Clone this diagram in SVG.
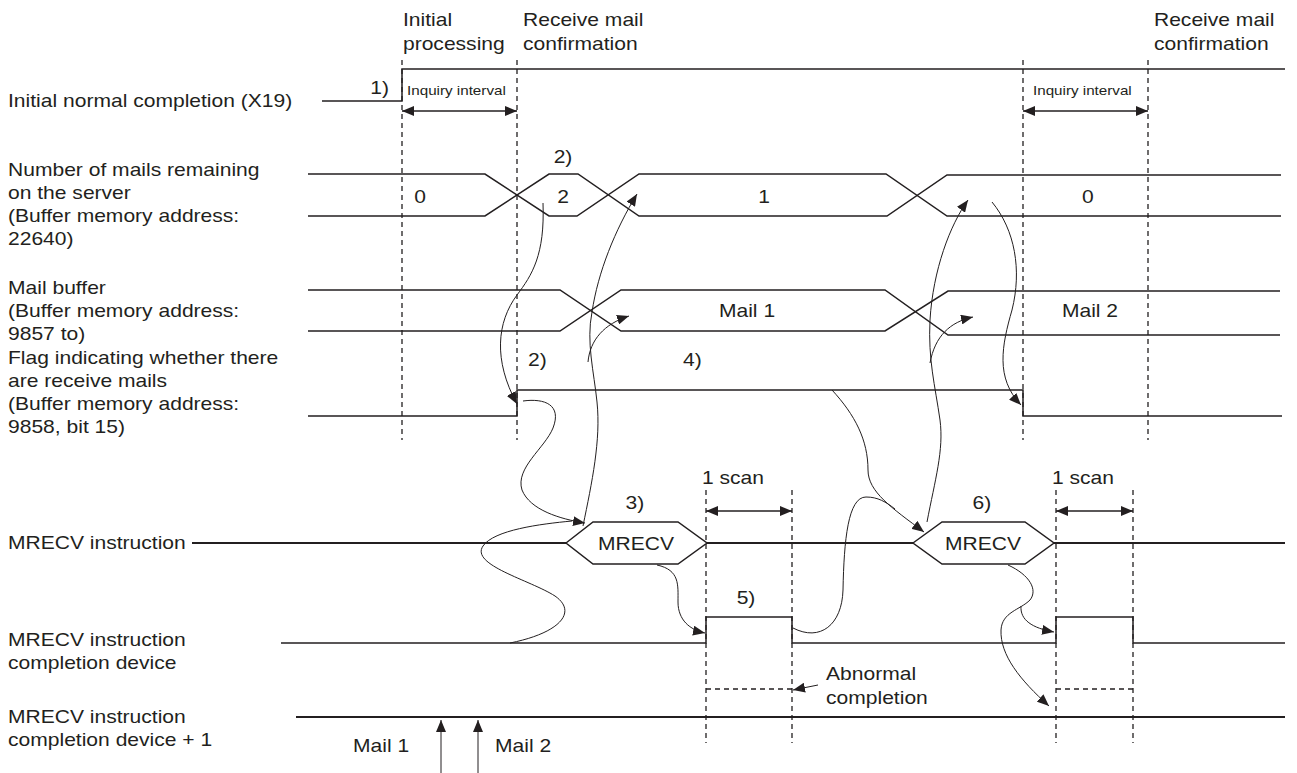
<svg xmlns="http://www.w3.org/2000/svg" width="1297" height="773" viewBox="0 0 1297 773">
<style>
text{font-family:"Liberation Sans",Arial,sans-serif;font-size:18px;fill:#231f20}
.sm{font-size:13px}
.sig{fill:none;stroke:#231f20;stroke-width:1.5}
.thk{fill:none;stroke:#231f20;stroke-width:2.2}
.dash{fill:none;stroke:#231f20;stroke-width:1.3;stroke-dasharray:5 4}
.cv{fill:none;stroke:#231f20;stroke-width:1}
.dim{fill:none;stroke:#231f20;stroke-width:1.3}
.mid{text-anchor:middle}
.end{text-anchor:end}
</style>
<defs>
<marker id="ah" viewBox="0 0 12 10" refX="12" refY="5" markerWidth="12" markerHeight="10" markerUnits="userSpaceOnUse" orient="auto-start-reverse">
<path d="M0,0 L12,5 L0,10 Z" fill="#231f20"/>
</marker>
</defs>
<rect width="1297" height="773" fill="#fff"/>

<g id="dashed-guides">
<path class="dash" d="M402,60 V440 M517,60 V440 M1023,60 V440 M1148,60 V440"/>
<path class="dash" d="M706,490 V743 M792,490 V743 M1056,490 V743 M1133,490 V743"/>
<path class="dash" d="M706,689 H792 M1056,689 H1133"/>
</g>

<g id="x19">
<path class="sig" d="M322,101 H402 V69 H1285"/>
<line class="dim" x1="402" y1="111" x2="517" y2="111" marker-start="url(#ah)" marker-end="url(#ah)"/>
<line class="dim" x1="1023" y1="111" x2="1148" y2="111" marker-start="url(#ah)" marker-end="url(#ah)"/>
</g>

<g id="mail-count">
<path class="sig" d="M308,174 H485 L549,216 H577 L639,174 H886 L947,216 H1281"/>
<path class="sig" d="M308,216 H485 L549,174 H578 L639,216 H887 L947,175 H1281"/>
</g>

<g id="mail-buffer">
<path class="sig" d="M308,290 H560 L621,331 H885 L948,291 H1280"/>
<path class="sig" d="M308,331 H560 L621,290 H885 L948,335 H1280"/>
</g>

<g id="flag">
<path class="sig" d="M308,416 H517 V390 H1023 V416 H1282"/>
</g>

<g id="mrecv">
<path class="thk" d="M192,543 H566 M707,543 H913 M1054,543 H1285"/>
<path class="sig" d="M566,543 L593,522 H678 L707,543 L678,564 H593 Z" fill="#fff"/>
<path class="sig" d="M913,543 L942,522 H1025 L1054,543 L1025,564 H942 Z" fill="#fff"/>
<line class="dim" x1="706" y1="511" x2="792" y2="511" marker-start="url(#ah)" marker-end="url(#ah)"/>
<line class="dim" x1="1056" y1="511" x2="1133" y2="511" marker-start="url(#ah)" marker-end="url(#ah)"/>
</g>

<g id="completion">
<path class="sig" d="M281,643 H706 V617 H792 V643 H1056 V617 H1133 V643 H1285"/>
</g>

<g id="completion1">
<path class="thk" d="M296,717 H1285"/>
</g>

<g id="connectors">
<line class="cv" x1="441" y1="773" x2="441" y2="720" marker-end="url(#ah)"/>
<line class="cv" x1="478" y1="773" x2="478" y2="720" marker-end="url(#ah)"/>
<line class="cv" x1="818" y1="685" x2="793" y2="690" marker-end="url(#ah)"/>
<path class="cv" d="M543,203 C545,255 532,275 517,295 C497,322 493,360 517,404" marker-end="url(#ah)"/>
<path class="cv" d="M523,401 C545,398 562,405 553,428 C545,448 515,468 522,490 C530,510 560,519 585,523" marker-end="url(#ah)"/>
<path class="cv" d="M510,643 C560,633 578,612 555,596 C530,580 470,565 483,546 C494,530 540,524 572,521"/>
<path class="cv" d="M583,526 C592,482 601,440 597,402 C594,372 586,342 592,312 C598,272 615,230 637,194" marker-end="url(#ah)"/>
<path class="cv" d="M588,362 C590,340 604,324 629,316" marker-end="url(#ah)"/>
<path class="cv" d="M657,565 C680,570 678,585 678,602 C678,620 690,630 705,633" marker-end="url(#ah)"/>
<path class="cv" d="M832,390 C855,415 868,440 868,470 C868,492 892,508 924,532" marker-end="url(#ah)"/>
<path class="cv" d="M793,628 C820,642 842,625 843,590 C844,540 848,497 866,497 C878,497 886,502 895,509"/>
<path class="cv" d="M927,522 C935,480 944,450 940,420 C935,385 928,360 930,320 C933,270 950,225 968,200" marker-end="url(#ah)"/>
<path class="cv" d="M930,363 C935,336 950,322 973,317" marker-end="url(#ah)"/>
<path class="cv" d="M992,202 C1015,230 1022,270 1012,310 C1002,345 995,378 1021,405" marker-end="url(#ah)"/>
<path class="cv" d="M1008,565 C1030,575 1038,590 1030,600 C1020,610 1002,612 1001,630 C1000,655 1020,680 1049,706" marker-end="url(#ah)"/>
<path class="cv" d="M1021,606 C1020,620 1032,628 1054,632" marker-end="url(#ah)"/>
</g>

<g id="labels" transform="scale(1.17,1)">
<text x="344.4" y="26">Initial</text>
<text x="344.4" y="50">processing</text>
<text x="447" y="26">Receive mail</text>
<text x="447" y="50">confirmation</text>
<text x="986.3" y="26">Receive mail</text>
<text x="986.3" y="50">confirmation</text>
<text x="6.84" y="107">Initial normal completion (X19)</text>
<text x="6.84" y="176">Number of mails remaining</text>
<text x="6.84" y="199">on the server</text>
<text x="6.84" y="222">(Buffer memory address:</text>
<text x="6.84" y="245">22640)</text>
<text x="6.84" y="294">Mail buffer</text>
<text x="6.84" y="317">(Buffer memory address:</text>
<text x="6.84" y="340">9857 to)</text>
<text x="6.84" y="364">Flag indicating whether there</text>
<text x="6.84" y="387">are receive mails</text>
<text x="6.84" y="410">(Buffer memory address:</text>
<text x="6.84" y="433">9858, bit 15)</text>
<text x="6.84" y="549">MRECV instruction</text>
<text x="6.84" y="646">MRECV instruction</text>
<text x="6.84" y="669">completion device</text>
<text x="6.84" y="723">MRECV instruction</text>
<text x="6.84" y="746">completion device + 1</text>
<text class="end" x="332.5" y="94">1)</text>
<text class="sm" x="347.9" y="95">Inquiry interval</text>
<text class="sm" x="882.9" y="95">Inquiry interval</text>
<text class="mid" x="359" y="203">0</text>
<text class="mid" x="481.2" y="203">2</text>
<text class="mid" x="653" y="203">1</text>
<text class="mid" x="929.9" y="203">0</text>
<text class="mid" x="481.2" y="163">2)</text>
<text class="mid" x="638.5" y="317">Mail 1</text>
<text class="mid" x="931.6" y="317">Mail 2</text>
<text x="451.3" y="366">2)</text>
<text x="583.8" y="366">4)</text>
<text class="mid" x="543.6" y="550">MRECV</text>
<text class="mid" x="840.2" y="550">MRECV</text>
<text class="mid" x="542.7" y="509">3)</text>
<text class="mid" x="839.3" y="509">6)</text>
<text x="600" y="484">1 scan</text>
<text x="899.1" y="484">1 scan</text>
<text class="mid" x="637.6" y="604">5)</text>
<text x="706" y="680">Abnormal</text>
<text x="706" y="704">completion</text>
<text x="301.7" y="752">Mail 1</text>
<text x="423.1" y="752">Mail 2</text>
</g>
</svg>
